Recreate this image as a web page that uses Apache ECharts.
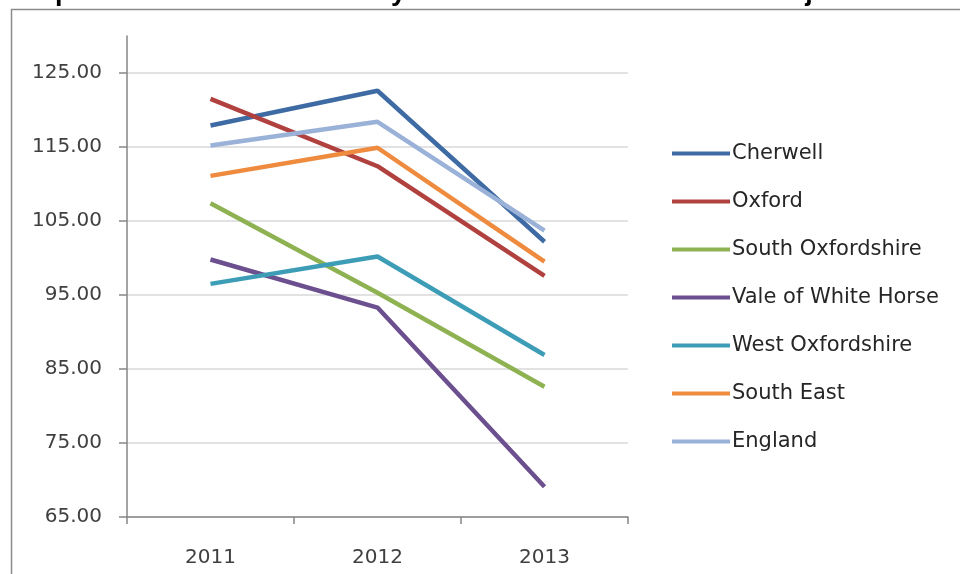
<!DOCTYPE html>
<html>
<head>
<meta charset="utf-8">
<script src="https://cdn.jsdelivr.net/npm/echarts@6/dist/echarts.min.js"></script>
<style>
  html, body { margin: 0; padding: 0; background: #fff; }
  #main { width: 960px; height: 574px; }
</style>
</head>
<body>
<div id="main"></div>
<script>
// years on the x axis
let years = ['2011', '2012', '2013'];

// rates per area
let cherwell = [117.9, 122.6, 102.2];
let oxford = [121.5, 112.4, 97.6];
let southOxfordshire = [107.4, 95.3, 82.6];
let valeOfWhiteHorse = [99.8, 93.3, 69.1];
let westOxfordshire = [96.5, 100.2, 86.9];
let southEast = [111.1, 114.9, 99.5];
let england = [115.2, 118.4, 103.7];

let seriesNames = ['Cherwell', 'Oxford', 'South Oxfordshire', 'Vale of White Horse', 'West Oxfordshire', 'South East', 'England'];
let seriesData = [cherwell, oxford, southOxfordshire, valeOfWhiteHorse, westOxfordshire, southEast, england];
let colors = ['#3E6BA3', '#B0413E', '#8EB152', '#6B4F8F', '#3D9DB6', '#EE8B3E', '#9AB1D8'];

let titleText = 'Hospital admissions caused by unintentional and deliberate injuries in children';

let axisFont = 'DejaVu Sans';
let axisGray = '#868686';

function main_chart(){
    let myChart = echarts.init(document.getElementById('main'));

    let series = [];
    for (let i = 0; i < seriesNames.length; i++){
        series.push({
            name: seriesNames[i],
            type: 'line',
            data: seriesData[i],
            showSymbol: false,
            symbol: 'none',
            lineStyle: {
                width: 4.5,
                color: colors[i]
            },
            itemStyle: {
                color: colors[i]
            }
        });
    }

    let option = {
        animation: false,
        backgroundColor: '#fff',
        title: {
            text: titleText,
            left: 4,
            top: -21,
            padding: 0,
            textStyle: {
                fontFamily: 'Liberation Sans',
                fontWeight: 'bold',
                fontSize: 27,
                color: '#000'
            }
        },
        graphic: [{
            // chart area frame, cut by the picture edge
            type: 'rect',
            left: 9,
            top: 7,
            shape: { width: 1000, height: 600 },
            style: { fill: 'none', stroke: '#8c8c8c', lineWidth: 1.5 },
            silent: true,
            z: -1
        }],
        legend: {
            orient: 'vertical',
            left: 667,
            top: 138,
            icon: 'rect',
            itemWidth: 58,
            itemHeight: 4,
            itemGap: 27,
            data: seriesNames,
            textStyle: {
                fontFamily: axisFont,
                fontSize: 21,
                lineHeight: 21,
                color: '#262626',
                padding: [0, 0, 0, -3]
            }
        },
        grid: {
            left: 127,
            right: 332,
            top: 36,
            bottom: 57,
            containLabel: false
        },
        xAxis: {
            type: 'category',
            data: years,
            boundaryGap: true,
            axisLine: {
                show: true,
                lineStyle: { color: axisGray, width: 1.5 }
            },
            axisTick: {
                show: true,
                length: 7,
                lineStyle: { color: axisGray, width: 1.5 }
            },
            axisLabel: {
                margin: 31,
                fontFamily: axisFont,
                fontSize: 20,
                color: '#404040'
            }
        },
        yAxis: {
            type: 'value',
            min: 65,
            max: 130,
            interval: 10,
            axisLine: {
                show: true,
                lineStyle: { color: axisGray, width: 1.5 }
            },
            axisTick: {
                show: true,
                length: 8,
                lineStyle: { color: axisGray, width: 1.5 }
            },
            splitLine: {
                show: true,
                showMaxLine: false,
                lineStyle: { color: '#d9d9d9', width: 1.5 }
            },
            axisLabel: {
                margin: 25,
                showMaxLabel: false,
                fontFamily: axisFont,
                fontSize: 20,
                color: '#404040',
                formatter: function (v) {
                    return v.toFixed(2);
                }
            }
        },
        series: series
    };
    myChart.setOption(option);
}

main_chart();
</script>
</body>
</html>
